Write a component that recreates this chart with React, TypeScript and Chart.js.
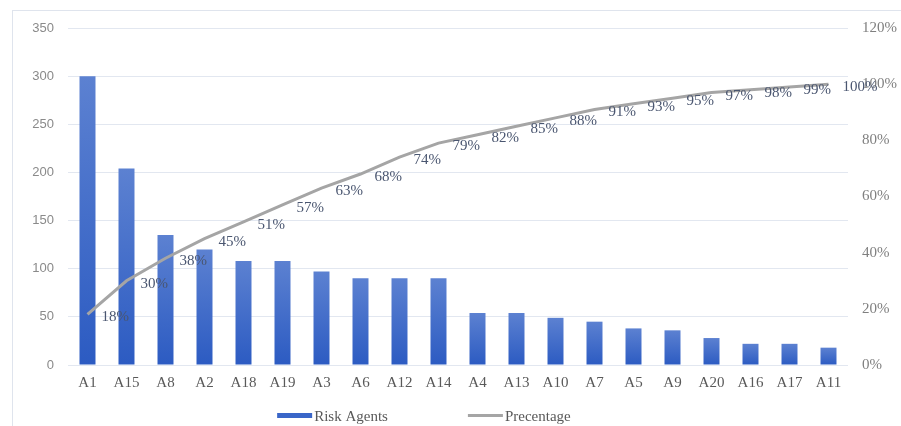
import React, { useEffect, useRef } from "react";
import { Chart, registerables } from "chart.js";

Chart.register(...registerables);

const categories = ["A1", "A15", "A8", "A2", "A18", "A19", "A3", "A6", "A12", "A14", "A4", "A13", "A10", "A7", "A5", "A9", "A20", "A16", "A17", "A11"];
const riskAgents = [300, 204, 135, 120, 108, 108, 97, 90, 90, 90, 54, 54, 49, 45, 38, 36, 28, 22, 22, 18];
const percentage = [18, 30, 38, 45, 51, 57, 63, 68, 74, 79, 82, 85, 88, 91, 93, 95, 97, 98, 99, 100];
const leftTicks = [0, 50, 100, 150, 200, 250, 300, 350];
const rightTicks = [0, 20, 40, 60, 80, 100, 120];

const SERIF = "'Liberation Serif', 'Times New Roman', serif";
const SANS = "'Liberation Sans', Arial, sans-serif";

const dataLabelPlugin = {
  id: "dataLabels",
  afterDatasetsDraw(chart: any) {
    const meta = chart.getDatasetMeta(1);
    const ctx = chart.ctx;
    ctx.save();
    ctx.font = `15px ${SERIF}`;
    ctx.fillStyle = "#4a5670";
    ctx.textAlign = "left";
    ctx.textBaseline = "middle";
    meta.data.forEach((pt: any, i: number) => {
      ctx.fillText(`${percentage[i]}%`, pt.x + 14, pt.y + 3);
    });
    ctx.restore();
  },
};

const legendPlugin = {
  id: "customLegend",
  afterDraw(chart: any) {
    const ctx = chart.ctx;
    ctx.save();
    ctx.font = `15px ${SERIF}`;
    const items = [
      { text: "Risk Agents", color: "#3a66c8", h: 5 },
      { text: "Precentage", color: "#a5a5a5", h: 3 },
    ];
    const sw = 35;
    const gap = 2;
    const itemGap = 80;
    const widths = items.map((it) => sw + gap + ctx.measureText(it.text).width);
    const total = widths[0] + itemGap + widths[1];
    let x = chart.width * 0.4705 - total / 2;
    const y = 416;
    items.forEach((it, i) => {
      ctx.fillStyle = it.color;
      ctx.fillRect(x, y - it.h / 2 - 0.5, sw, it.h);
      ctx.fillStyle = "#595959";
      ctx.textAlign = "left";
      ctx.textBaseline = "middle";
      ctx.fillText(it.text, x + sw + gap, y + 1);
      x += widths[i] + itemGap;
    });
    ctx.restore();
  },
};

export default function App() {
  const ref = useRef<HTMLCanvasElement | null>(null);

  useEffect(() => {
    if (!ref.current) return;
    const chart = new Chart(ref.current, {
      type: "bar",
      data: {
        labels: categories,
        datasets: [
          {
            type: "bar",
            label: "Risk Agents",
            data: riskAgents,
            yAxisID: "y",
            order: 1,
            barPercentage: 0.41,
            categoryPercentage: 1,
            backgroundColor: (c: any) => {
              const chart = c.chart;
              if (!chart.chartArea || c.type !== "data") return "#3a66c8";
              const ys = chart.scales.y;
              const top = ys.getPixelForValue(c.raw);
              const bottom = ys.getPixelForValue(0);
              const g = chart.ctx.createLinearGradient(0, top, 0, bottom);
              g.addColorStop(0, "#5c81d1");
              g.addColorStop(1, "#2c5bc2");
              return g;
            },
          },
          {
            type: "line",
            label: "Precentage",
            data: percentage,
            yAxisID: "y1",
            order: 0,
            borderColor: "#a5a5a5",
            borderWidth: 3,
            pointRadius: 0,
            tension: 0,
            fill: false,
          },
        ],
      },
      options: {
        responsive: false,
        animation: false,
        layout: { padding: { left: 0, right: 0, top: 28, bottom: 31 } },
        plugins: {
          legend: { display: false },
          tooltip: { enabled: false },
        },
        scales: {
          x: {
            grid: { display: false, drawTicks: false },
            border: { display: false },
            ticks: {
              color: "#595959",
              font: { family: SERIF, size: 15 },
              padding: 9,
              maxRotation: 0,
              autoSkip: false,
            },
            afterFit: (s: any) => {
              s.height = 30;
            },
          },
          y: {
            position: "left",
            min: 0,
            max: 350,
            afterBuildTicks: (s: any) => {
              s.ticks = leftTicks.map((v) => ({ value: v }));
            },
            grid: { color: "#e2e7f0", lineWidth: 1, drawTicks: false },
            border: { display: false },
            ticks: {
              color: "#8a8a8a",
              font: { family: SANS, size: 13 },
              padding: 14,
            },
            afterFit: (s: any) => {
              s.width = 68;
            },
          },
          y1: {
            position: "right",
            min: 0,
            max: 120,
            afterBuildTicks: (s: any) => {
              s.ticks = rightTicks.map((v) => ({ value: v }));
            },
            grid: { drawOnChartArea: false, drawTicks: false },
            border: { display: false },
            ticks: {
              color: "#7f7f7f",
              font: { family: SERIF, size: 15 },
              padding: 14,
              callback: (v: any) => `${v}%`,
            },
            afterFit: (s: any) => {
              s.width = 53;
            },
          },
        },
      },
      plugins: [dataLabelPlugin, legendPlugin],
    });
    return () => chart.destroy();
  }, []);

  return (
    <div style={{ position: "fixed", left: 0, top: 0, width: 901, height: 426, background: "#ffffff", overflow: "hidden" }}>
      <div
        style={{
          position: "absolute",
          left: 12,
          top: 10,
          width: 900,
          height: 430,
          borderLeft: "1px solid #dfe4ed",
          borderTop: "1px solid #dfe4ed",
        }}
      />
      <canvas ref={ref} width={901} height={426} style={{ position: "absolute", left: 0, top: 0, width: 901, height: 426 }} />
    </div>
  );
}
